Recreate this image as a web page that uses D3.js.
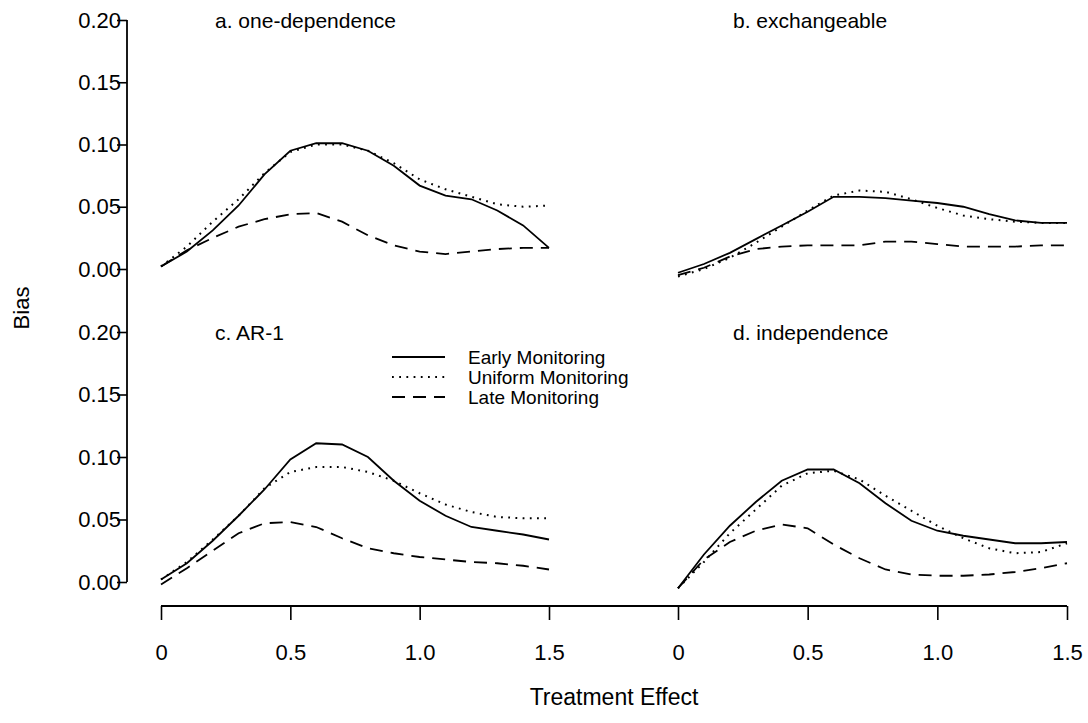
<!DOCTYPE html>
<html lang="en">
<head>
<meta charset="UTF-8">
<title>Bias vs Treatment Effect</title>
<script src="https://d3js.org/d3.v7.min.js"></script>
<style>
    body { margin: 0; background: #fff; }
    svg { display: block; font-family: "Liberation Sans", Arial, Helvetica, sans-serif; }
</style>
</head>
<body>
<svg width="1088" height="723"></svg>
<script>
// treatment effect grid
const effect = [0, 0.1, 0.2, 0.3, 0.4, 0.5, 0.6, 0.7, 0.8, 0.9, 1.0, 1.1, 1.2, 1.3, 1.4, 1.5];

const panelTitles = ["a. one-dependence", "b. exchangeable", "c. AR-1", "d. independence"];
const seriesNames = ["Early Monitoring", "Uniform Monitoring", "Late Monitoring"];

// a. one-dependence
const earlyA   = [0.002, 0.014, 0.031, 0.051, 0.076, 0.095, 0.101, 0.101, 0.095, 0.083, 0.067, 0.059, 0.056, 0.047, 0.035, 0.017];
const uniformA = [0.002, 0.018, 0.038, 0.056, 0.077, 0.094, 0.100, 0.100, 0.095, 0.085, 0.072, 0.064, 0.058, 0.052, 0.050, 0.051];
const lateA    = [0.002, 0.015, 0.025, 0.034, 0.040, 0.044, 0.045, 0.038, 0.027, 0.019, 0.014, 0.012, 0.014, 0.016, 0.017, 0.017];
// b. exchangeable
const earlyB   = [-0.003, 0.004, 0.013, 0.024, 0.035, 0.046, 0.058, 0.058, 0.057, 0.055, 0.053, 0.050, 0.044, 0.039, 0.037, 0.037];
const uniformB = [-0.006, 0.000, 0.009, 0.021, 0.034, 0.047, 0.059, 0.063, 0.062, 0.056, 0.049, 0.043, 0.040, 0.038, 0.037, 0.037];
const lateB    = [-0.005, 0.001, 0.010, 0.016, 0.018, 0.019, 0.019, 0.019, 0.022, 0.022, 0.020, 0.018, 0.018, 0.018, 0.019, 0.019];
// c. AR-1
const earlyC   = [0.002, 0.015, 0.033, 0.053, 0.074, 0.098, 0.111, 0.110, 0.100, 0.081, 0.065, 0.053, 0.044, 0.041, 0.038, 0.034];
const uniformC = [0.002, 0.016, 0.034, 0.053, 0.075, 0.088, 0.092, 0.092, 0.088, 0.081, 0.071, 0.062, 0.056, 0.052, 0.051, 0.051];
const lateC    = [-0.002, 0.011, 0.025, 0.039, 0.047, 0.048, 0.044, 0.035, 0.027, 0.023, 0.020, 0.018, 0.016, 0.015, 0.013, 0.010];
// d. independence
const earlyD   = [-0.005, 0.022, 0.045, 0.064, 0.081, 0.090, 0.090, 0.079, 0.063, 0.049, 0.041, 0.037, 0.034, 0.031, 0.031, 0.032];
const uniformD = [-0.005, 0.016, 0.039, 0.058, 0.077, 0.087, 0.089, 0.082, 0.069, 0.057, 0.045, 0.035, 0.027, 0.023, 0.024, 0.031];
const lateD    = [-0.005, 0.018, 0.032, 0.041, 0.046, 0.043, 0.030, 0.019, 0.010, 0.006, 0.005, 0.005, 0.006, 0.008, 0.011, 0.015];

const xTicks = [0, 0.5, 1.0, 1.5];
const xTickLabels = ["0", "0.5", "1.0", "1.5"];
const yTicks = [0, 0.05, 0.10, 0.15, 0.20];
const yTickLabels = ["0.00", "0.05", "0.10", "0.15", "0.20"];

const svg = d3.select("svg");
const fontSize = 22;

// column x ranges and row y ranges (pixels)
const cols = [[161, 549], [678, 1067]];
const rows = [[269, 20], [582, 332]];
const xScales = cols.map(r => d3.scaleLinear().domain([0, 1.5]).range(r));
const yScales = rows.map(r => d3.scaleLinear().domain([0, 0.2]).range(r));

const panels = [
    { title: panelTitles[0], data: [earlyA, uniformA, lateA], col: 0, row: 0 },
    { title: panelTitles[1], data: [earlyB, uniformB, lateB], col: 1, row: 0 },
    { title: panelTitles[2], data: [earlyC, uniformC, lateC], col: 0, row: 1 },
    { title: panelTitles[3], data: [earlyD, uniformD, lateD], col: 1, row: 1 }
];

const dashes = [null, "1.8,5.4", "13,8"];
const widths = [1.8, 2, 1.8];

// Y axis (one long line, two sets of ticks)
const axisX = 127;
const yAxisG = svg.append("g").attr("transform", `translate(${axisX},0)`);
yScales.forEach(y => {
    const g = yAxisG.append("g")
        .call(d3.axisLeft(y).tickValues(yTicks).tickFormat((d, i) => yTickLabels[i]).tickSize(10).tickPadding(-4));
    g.select(".domain").remove();
    g.selectAll("line").attr("stroke", "#000").attr("stroke-width", 1.6);
    g.selectAll("text").attr("font-size", fontSize).attr("fill", "#000");
    g.attr("font-family", null);
});
yAxisG.append("line")
    .attr("x1", 0).attr("x2", 0)
    .attr("y1", yScales[0](0.2)).attr("y2", yScales[1](0))
    .attr("stroke", "#000").attr("stroke-width", 1.8);

// X axis (one line spanning both columns)
const axisY = 606;
const xAxisG = svg.append("g").attr("transform", `translate(0,${axisY})`);
xScales.forEach(x => {
    const g = xAxisG.append("g")
        .call(d3.axisBottom(x).tickValues(xTicks).tickFormat((d, i) => xTickLabels[i]).tickSize(14).tickPadding(24));
    g.select(".domain").remove();
    g.selectAll("line").attr("stroke", "#000").attr("stroke-width", 1.6);
    g.selectAll("text").attr("font-size", fontSize).attr("fill", "#000");
    g.attr("font-family", null);
});
xAxisG.append("line")
    .attr("x1", xScales[0](0)).attr("x2", xScales[1](1.5))
    .attr("y1", 0).attr("y2", 0)
    .attr("stroke", "#000").attr("stroke-width", 1.8);

// panels
panels.forEach(p => {
    const x = xScales[p.col], y = yScales[p.row];
    const line = d3.line().x((d, i) => x(effect[i])).y(d => y(d));
    p.data.forEach((series, k) => {
        svg.append("path")
            .datum(series)
            .attr("fill", "none")
            .attr("stroke", "#000")
            .attr("stroke-width", widths[k])
            .attr("stroke-dasharray", dashes[k])
            .attr("d", line);
    });
    svg.append("text")
        .attr("x", p.col === 0 ? 215 : 733)
        .attr("y", y(0.2) + 8)
        .attr("font-size", 21)
        .text(p.title);
});

// legend
const legend = svg.append("g").attr("transform", "translate(392,357)");
seriesNames.forEach((name, k) => {
    const row = legend.append("g").attr("transform", `translate(0,${k * 20})`);
    row.append("line")
        .attr("x1", 0).attr("x2", 53).attr("y1", 0).attr("y2", 0)
        .attr("stroke", "#000").attr("stroke-width", widths[k])
        .attr("stroke-dasharray", dashes[k]);
    row.append("text")
        .attr("x", 76).attr("y", 0).attr("dy", "0.35em")
        .attr("font-size", 19)
        .text(name);
});

// axis titles
svg.append("text")
    .attr("x", (xScales[0](0) + xScales[1](1.5)) / 2)
    .attr("y", 705)
    .attr("text-anchor", "middle")
    .attr("font-size", 23)
    .text("Treatment Effect");

svg.append("text")
    .attr("transform", "translate(29,308) rotate(-90)")
    .attr("text-anchor", "middle")
    .attr("font-size", 22)
    .text("Bias");
</script>
</body>
</html>
